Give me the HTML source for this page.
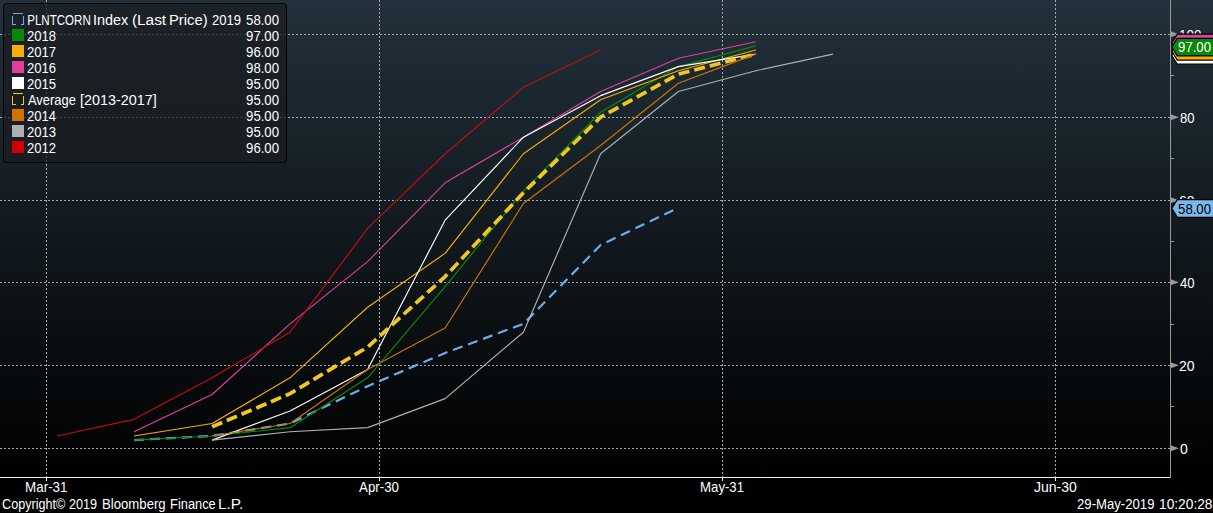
<!DOCTYPE html>
<html><head><meta charset="utf-8"><style>
html,body{margin:0;padding:0;background:#000;width:1213px;height:513px;overflow:hidden}
svg{display:block}
.t{font-family:"Liberation Sans",sans-serif;font-size:13px;fill:#fff}
</style></head><body>
<svg width="1213" height="513" viewBox="0 0 1213 513">
<defs><linearGradient id="bg" x1="0" y1="0" x2="0" y2="1">
<stop offset="0" stop-color="#22313b"/><stop offset="1" stop-color="#000"/></linearGradient></defs>
<rect x="0" y="0" width="1213" height="477" fill="url(#bg)"/>
<rect x="0" y="477" width="1213" height="36" fill="#000"/>
<line x1="0" y1="448.5" x2="1170" y2="448.5" stroke="#aaa" stroke-width="1" stroke-dasharray="2,2"/><line x1="0" y1="365.5" x2="1170" y2="365.5" stroke="#aaa" stroke-width="1" stroke-dasharray="2,2"/><line x1="0" y1="282.5" x2="1170" y2="282.5" stroke="#aaa" stroke-width="1" stroke-dasharray="2,2"/><line x1="0" y1="200.5" x2="1170" y2="200.5" stroke="#aaa" stroke-width="1" stroke-dasharray="2,2"/><line x1="0" y1="117.5" x2="1170" y2="117.5" stroke="#aaa" stroke-width="1" stroke-dasharray="2,2"/><line x1="0" y1="34.5" x2="1170" y2="34.5" stroke="#aaa" stroke-width="1" stroke-dasharray="2,2"/><line x1="46.5" y1="0" x2="46.5" y2="477" stroke="#aaa" stroke-width="1" stroke-dasharray="2,2"/><line x1="46.5" y1="477" x2="46.5" y2="481" stroke="#fff" stroke-width="1"/><line x1="379.5" y1="0" x2="379.5" y2="477" stroke="#aaa" stroke-width="1" stroke-dasharray="2,2"/><line x1="379.5" y1="477" x2="379.5" y2="481" stroke="#fff" stroke-width="1"/><line x1="722.5" y1="0" x2="722.5" y2="477" stroke="#aaa" stroke-width="1" stroke-dasharray="2,2"/><line x1="722.5" y1="477" x2="722.5" y2="481" stroke="#fff" stroke-width="1"/><line x1="1055.5" y1="0" x2="1055.5" y2="477" stroke="#aaa" stroke-width="1" stroke-dasharray="2,2"/><line x1="1055.5" y1="477" x2="1055.5" y2="481" stroke="#fff" stroke-width="1"/>
<line x1="0" y1="477.5" x2="1171" y2="477.5" stroke="#eee" stroke-width="1"/>
<line x1="1170.5" y1="0" x2="1170.5" y2="478" stroke="#999" stroke-width="1"/>
<path d="M1170,445.1 L1179,448.3 L1170,451.5Z" fill="#999"/><text x="1180.00" y="454" class="t" font-size="14" style="font-size:14px" textLength="7.80" lengthAdjust="spacingAndGlyphs">0</text><path d="M1170,362.1 L1179,365.3 L1170,368.5Z" fill="#999"/><text x="1179.00" y="371" class="t" font-size="14" style="font-size:14px" textLength="15.58" lengthAdjust="spacingAndGlyphs">20</text><path d="M1170,279.1 L1179,282.3 L1170,285.5Z" fill="#999"/><text x="1180.00" y="288" class="t" font-size="14" style="font-size:14px" textLength="14.54" lengthAdjust="spacingAndGlyphs">40</text><path d="M1170,197.1 L1179,200.3 L1170,203.5Z" fill="#999"/><text x="1179.00" y="206" class="t" font-size="14" style="font-size:14px" textLength="15.58" lengthAdjust="spacingAndGlyphs">60</text><path d="M1170,114.1 L1179,117.3 L1170,120.5Z" fill="#999"/><text x="1180.00" y="123" class="t" font-size="14" style="font-size:14px" textLength="14.54" lengthAdjust="spacingAndGlyphs">80</text><path d="M1170,31.1 L1179,34.3 L1170,37.5Z" fill="#999"/><text x="1179.05" y="40" class="t" font-size="14" style="font-size:14px" textLength="22.30" lengthAdjust="spacingAndGlyphs">100</text><line x1="1170" y1="406.5" x2="1174" y2="406.5" stroke="#999" stroke-width="1"/><line x1="1170" y1="324.5" x2="1174" y2="324.5" stroke="#999" stroke-width="1"/><line x1="1170" y1="241.5" x2="1174" y2="241.5" stroke="#999" stroke-width="1"/><line x1="1170" y1="158.5" x2="1174" y2="158.5" stroke="#999" stroke-width="1"/><line x1="1170" y1="75.5" x2="1174" y2="75.5" stroke="#999" stroke-width="1"/>
<polyline points="134.00,440.10 212.10,435.95 290.00,423.50 367.60,386.15 445.10,352.95 523.40,323.90 600.60,245.05 678.40,207.70" fill="none" stroke="#6aaeea" stroke-width="2.2" stroke-linejoin="round" stroke-dasharray="10,6"/><polyline points="134.00,440.10 212.10,435.95 290.00,427.65 367.60,377.85 445.10,286.55 523.40,191.10 600.60,112.25 678.40,66.60 755.80,45.85" fill="none" stroke="#088a08" stroke-width="1.15" stroke-linejoin="round"/><polyline points="134.00,435.95 212.10,423.50 290.00,377.85 367.60,307.30 445.10,253.35 523.40,153.75 600.60,99.80 678.40,70.75 755.80,50.00" fill="none" stroke="#f8ae00" stroke-width="1.15" stroke-linejoin="round"/><polyline points="134.00,431.80 212.10,394.45 290.00,323.90 367.60,261.65 445.10,182.80 523.40,137.15 600.60,91.50 678.40,58.30 755.80,41.70" fill="none" stroke="#e0409a" stroke-width="1.15" stroke-linejoin="round"/><polyline points="212.10,440.10 290.00,411.05 367.60,369.55 445.10,220.15 523.40,137.15 600.60,95.65 678.40,66.60 755.80,54.15" fill="none" stroke="#ffffff" stroke-width="1.15" stroke-linejoin="round"/><polyline points="212.10,426.82 290.00,393.62 367.60,347.14 445.10,276.59 523.40,192.76 600.60,117.23 678.40,74.07 755.80,54.15" fill="none" stroke="#f0c820" stroke-width="3.7" stroke-linejoin="round" stroke-dasharray="11,5"/><polyline points="212.10,435.95 290.00,423.50 367.60,369.55 445.10,328.05 523.40,203.55 600.60,145.45 678.40,83.20 755.80,54.15" fill="none" stroke="#d47200" stroke-width="1.15" stroke-linejoin="round"/><polyline points="212.10,440.10 290.00,431.80 367.60,427.65 445.10,398.60 523.40,332.20 600.60,153.75 678.40,91.50 755.80,70.75 832.90,54.15" fill="none" stroke="#b0b0b0" stroke-width="1.15" stroke-linejoin="round"/><polyline points="57.30,435.95 134.00,419.35 212.10,377.85 290.00,332.20 367.60,228.45 445.10,153.75 523.40,87.35 600.60,50.00" fill="none" stroke="#c40c18" stroke-width="1.15" stroke-linejoin="round"/>
<rect x="3.5" y="3.5" width="283" height="159" rx="3" fill="#191c20" fill-opacity="0.74" stroke="#000" stroke-width="1"/>
<path d="M13,13.5 h10 M12.5,16 v9 M12,24.5 h4 M23.5,16 v9 M21,24.5 h3" stroke="#6aaeea" fill="none" stroke-width="1"/><text x="27.17" y="25" class="t" font-size="14" style="font-size:14px" textLength="63.67" lengthAdjust="spacingAndGlyphs">PLNTCORN</text><text x="92.97" y="25" class="t" font-size="14" style="font-size:14px" textLength="35.29" lengthAdjust="spacingAndGlyphs">Index</text><text x="131.90" y="25" class="t" font-size="14" style="font-size:14px" textLength="34.24" lengthAdjust="spacingAndGlyphs">(Last</text><text x="168.94" y="25" class="t" font-size="14" style="font-size:14px" textLength="38.65" lengthAdjust="spacingAndGlyphs">Price)</text><text x="212.07" y="25" class="t" font-size="14" style="font-size:14px" textLength="29.08" lengthAdjust="spacingAndGlyphs">2019</text><text x="246.06" y="25" class="t" font-size="14" style="font-size:14px" textLength="32.99" lengthAdjust="spacingAndGlyphs">58.00</text><rect x="12" y="29" width="12" height="12" fill="#088a08"/><text x="27.07" y="41" class="t" font-size="14" style="font-size:14px" textLength="29.08" lengthAdjust="spacingAndGlyphs">2018</text><text x="246.06" y="41" class="t" font-size="14" style="font-size:14px" textLength="32.99" lengthAdjust="spacingAndGlyphs">97.00</text><rect x="12" y="45" width="12" height="12" fill="#f8ae00"/><text x="27.07" y="57" class="t" font-size="14" style="font-size:14px" textLength="29.08" lengthAdjust="spacingAndGlyphs">2017</text><text x="246.06" y="57" class="t" font-size="14" style="font-size:14px" textLength="32.99" lengthAdjust="spacingAndGlyphs">96.00</text><rect x="12" y="61" width="12" height="12" fill="#e0409a"/><text x="27.07" y="73" class="t" font-size="14" style="font-size:14px" textLength="29.08" lengthAdjust="spacingAndGlyphs">2016</text><text x="246.06" y="73" class="t" font-size="14" style="font-size:14px" textLength="32.99" lengthAdjust="spacingAndGlyphs">98.00</text><rect x="12" y="77" width="12" height="12" fill="#ffffff"/><text x="27.07" y="89" class="t" font-size="14" style="font-size:14px" textLength="29.08" lengthAdjust="spacingAndGlyphs">2015</text><text x="246.06" y="89" class="t" font-size="14" style="font-size:14px" textLength="32.99" lengthAdjust="spacingAndGlyphs">95.00</text><path d="M13,93.5 h10 M12.5,96 v9 M12,104.5 h4 M23.5,96 v9 M21,104.5 h3" stroke="#f0c820" fill="none" stroke-width="1"/><text x="28.00" y="105" class="t" font-size="14" style="font-size:14px" textLength="47.84" lengthAdjust="spacingAndGlyphs">Average</text><text x="79.97" y="105" class="t" font-size="14" style="font-size:14px" textLength="76.78" lengthAdjust="spacingAndGlyphs">[2013-2017]</text><text x="246.06" y="105" class="t" font-size="14" style="font-size:14px" textLength="32.99" lengthAdjust="spacingAndGlyphs">95.00</text><rect x="12" y="109" width="12" height="12" fill="#d47200"/><text x="27.07" y="121" class="t" font-size="14" style="font-size:14px" textLength="29.08" lengthAdjust="spacingAndGlyphs">2014</text><text x="246.06" y="121" class="t" font-size="14" style="font-size:14px" textLength="32.99" lengthAdjust="spacingAndGlyphs">95.00</text><rect x="12" y="125" width="12" height="12" fill="#b0b0b0"/><text x="27.07" y="137" class="t" font-size="14" style="font-size:14px" textLength="29.08" lengthAdjust="spacingAndGlyphs">2013</text><text x="246.06" y="137" class="t" font-size="14" style="font-size:14px" textLength="32.99" lengthAdjust="spacingAndGlyphs">95.00</text><rect x="12" y="141" width="12" height="12" fill="#d00000"/><text x="27.07" y="153" class="t" font-size="14" style="font-size:14px" textLength="29.08" lengthAdjust="spacingAndGlyphs">2012</text><text x="246.06" y="153" class="t" font-size="14" style="font-size:14px" textLength="32.99" lengthAdjust="spacingAndGlyphs">96.00</text>
<path d="M1171.8,55.3 L1177.3,46.6 L1214,46.6 L1214,64.2 L1177.3,64.2 Z" fill="#ffffff" stroke="#000" stroke-width="1.2"/><path d="M1171.8,42.9 L1177.3,34.2 L1214,34.2 L1214,51.8 L1177.3,51.8 Z" fill="#e0409a" stroke="#000" stroke-width="1.2"/><path d="M1171.8,51.2 L1177.3,42.5 L1214,42.5 L1214,60.1 L1177.3,60.1 Z" fill="#f8ae00" stroke="#000" stroke-width="1.2"/><path d="M1171.8,47.0 L1177.3,38.3 L1214,38.3 L1214,55.9 L1177.3,55.9 Z" fill="#088a08" stroke="#000" stroke-width="1.2"/><text x="1178.06" y="52" class="t" font-size="14" style="font-size:14px;fill:#fff" textLength="32.99" lengthAdjust="spacingAndGlyphs">97.00</text><path d="M1171.8,208.4 L1177.3,199.7 L1214,199.7 L1214,217.3 L1177.3,217.3 Z" fill="#7ab8f0" stroke="#000" stroke-width="1.2"/><text x="1178.06" y="214" class="t" font-size="14" style="font-size:14px;fill:#000" textLength="32.99" lengthAdjust="spacingAndGlyphs">58.00</text>
<text x="25.11" y="492" class="t" font-size="15" style="font-size:15px" textLength="42.35" lengthAdjust="spacingAndGlyphs">Mar-31</text>
<text x="359.00" y="492" class="t" font-size="15" style="font-size:15px" textLength="40.03" lengthAdjust="spacingAndGlyphs">Apr-30</text>
<text x="700.12" y="492" class="t" font-size="15" style="font-size:15px" textLength="43.90" lengthAdjust="spacingAndGlyphs">May-31</text>
<text x="1034.00" y="492" class="t" font-size="15" style="font-size:15px" textLength="42.82" lengthAdjust="spacingAndGlyphs">Jun-30</text>
<text x="2.10" y="509" class="t" font-size="14" style="font-size:14px" textLength="63.11" lengthAdjust="spacingAndGlyphs">Copyright©</text><text x="69.10" y="509" class="t" font-size="14" style="font-size:14px" textLength="28.04" lengthAdjust="spacingAndGlyphs">2019</text><text x="102.06" y="509" class="t" font-size="14" style="font-size:14px" textLength="63.60" lengthAdjust="spacingAndGlyphs">Bloomberg</text><text x="170.08" y="509" class="t" font-size="14" style="font-size:14px" textLength="45.66" lengthAdjust="spacingAndGlyphs">Finance</text><text x="217.90" y="509" class="t" font-size="14" style="font-size:14px" textLength="25.31" lengthAdjust="spacingAndGlyphs">L.P.</text>
<text x="1077.06" y="509" class="t" font-size="14" style="font-size:14px" textLength="77.41" lengthAdjust="spacingAndGlyphs">29-May-2019</text><text x="1159.02" y="509" class="t" font-size="14" style="font-size:14px" textLength="53.47" lengthAdjust="spacingAndGlyphs">10:20:28</text>
</svg>
</body></html>
